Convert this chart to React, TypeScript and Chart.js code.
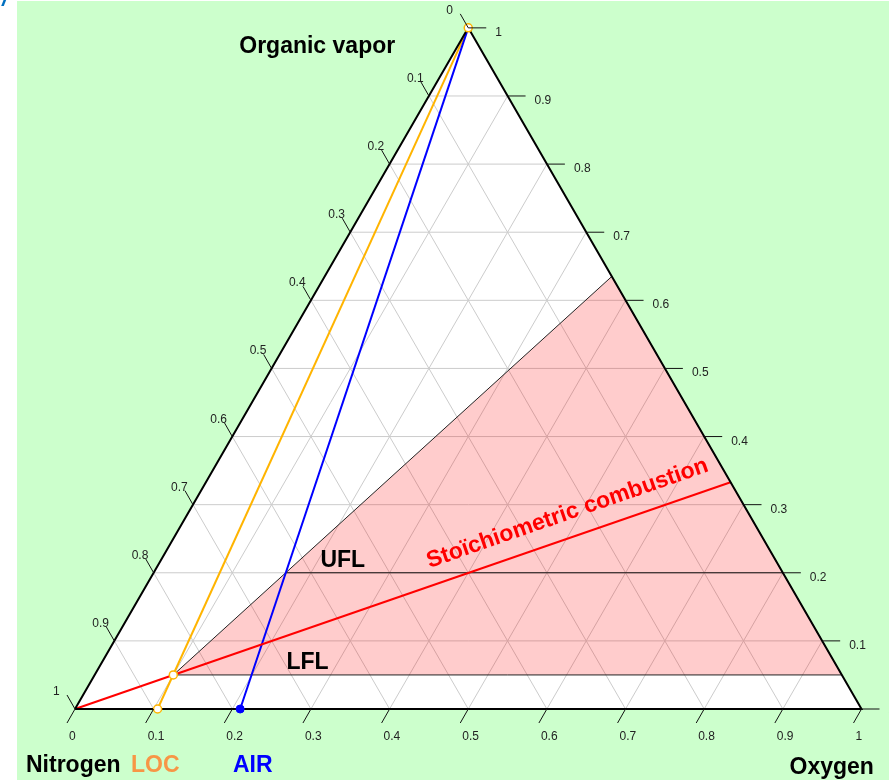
import React, { useEffect, useRef } from 'react';
import { Chart, registerables } from 'chart.js';

Chart.register(...registerables);

// ---- data (ternary points are [oxygen, organic vapor]; nitrogen = 1 - oxygen - vapor) ----
const TICK_VALUES = [0, 0.1, 0.2, 0.3, 0.4, 0.5, 0.6, 0.7, 0.8, 0.9, 1];
const TICK_LABELS = ['0', '0.1', '0.2', '0.3', '0.4', '0.5', '0.6', '0.7', '0.8', '0.9', '1'];
const GRID_STEPS = [0.1, 0.2, 0.3, 0.4, 0.5, 0.6, 0.7, 0.8, 0.9];

const TRIANGLE = [[0, 0], [1, 0], [0, 1], [0, 0]];
const FLAMMABLE_ZONE = [[0.1, 0.05], [0.365, 0.635], [0.95, 0.05], [0.1, 0.05]];
const UFL_LINE = [[0.168, 0.2], [0.8, 0.2]];
const AIR_LINE = [[0.21, 0], [0, 1]];
const LOC_LINE = [[0.105, 0], [0, 1]];
const STOICH_LINE = [[0, 0], [0.667, 0.333]];
const LOC_POINTS = [[0, 1], [0.1, 0.05], [0.105, 0]];
const AIR_POINTS = [[0.21, 0]];
const UFL_ANCHOR = [0.168, 0.2];
const LFL_ANCHOR = [0.1995, 0.05];
const STOICH_LABEL_AT = [0.509, 0.254];

const AXIS_TITLES = ['Organic vapor', 'Nitrogen', 'Oxygen'];
const LEGEND_LOC = 'LOC';
const LEGEND_AIR = 'AIR';
const ZONE_LABELS = ['UFL', 'LFL'];
const STOICH_LABEL = 'Stoïchiometric combustion';

// ---- helpers ----
const H = Math.sqrt(3) / 2;
const toXY = (p: number[]) => ({ x: p[0] + p[1] / 2, y: p[1] * H });

const FONT = 'Arial, "Liberation Sans", sans-serif';
const GREEN = '#CCFFCC';
const ORANGE = '#FFB400';
const BLUE = '#0000FF';
const RED = '#FF0000';

function lineDs(pts: number[][], color: string, width: number, extra: any = {}) {
  return {
    data: pts.map(toXY),
    borderColor: color,
    borderWidth: width,
    pointRadius: 0,
    pointHoverRadius: 0,
    fill: false,
    tension: 0,
    ...extra,
  };
}

function buildDatasets() {
  const ds: any[] = [];
  ds.push(lineDs(TRIANGLE, 'rgba(0,0,0,0)', 0, { fill: 'shape', backgroundColor: '#FFFFFF' }));
  GRID_STEPS.forEach((s) => {
    ds.push(lineDs([[0, s], [1 - s, s]], '#CCCCCC', 1));
    ds.push(lineDs([[s, 0], [s, 1 - s]], '#CCCCCC', 1));
    ds.push(lineDs([[1 - s, 0], [0, 1 - s]], '#CCCCCC', 1));
  });
  ds.push(lineDs(FLAMMABLE_ZONE, '#222222', 1, { fill: 'shape', backgroundColor: 'rgba(255,0,0,0.2)' }));
  ds.push(lineDs(UFL_LINE, '#111111', 1));
  ds.push(lineDs(LOC_LINE, ORANGE, 2));
  ds.push(lineDs(AIR_LINE, BLUE, 2));
  ds.push(lineDs(STOICH_LINE, RED, 2));
  ds.push(lineDs(TRIANGLE, '#000000', 2));
  ds.push({
    data: LOC_POINTS.map(toXY),
    showLine: false,
    pointRadius: 4,
    pointBackgroundColor: '#FFFFFF',
    pointBorderColor: ORANGE,
    pointBorderWidth: 1.5,
  });
  ds.push({
    data: AIR_POINTS.map(toXY),
    showLine: false,
    pointRadius: 4,
    pointBackgroundColor: BLUE,
    pointBorderColor: BLUE,
    pointBorderWidth: 1,
  });
  const n = ds.length;
  ds.forEach((d, i) => (d.order = n - i));
  return ds;
}

const bgPlugin = {
  id: 'bg',
  beforeDraw(chart: any) {
    const ctx = chart.ctx;
    ctx.save();
    ctx.fillStyle = GREEN;
    ctx.fillRect(17, 1, chart.width - 17, chart.height - 1);
    ctx.fillStyle = '#0070C0';
    ctx.font = `italic bold 22px ${FONT}`;
    ctx.textAlign = 'left';
    ctx.textBaseline = 'alphabetic';
    ctx.fillText('/', 2, 6);
    ctx.restore();
  },
};

function pix(chart: any, p: number[]) {
  const c = toXY(p);
  return { x: chart.scales.x.getPixelForValue(c.x), y: chart.scales.y.getPixelForValue(c.y) };
}

const labelPlugin = {
  id: 'ternaryLabels',
  afterDatasetsDraw(chart: any) {
    const ctx = chart.ctx;
    ctx.save();
    const seg = (x1: number, y1: number, x2: number, y2: number) => {
      ctx.beginPath();
      ctx.moveTo(x1, y1);
      ctx.lineTo(x2, y2);
      ctx.stroke();
    };
    ctx.strokeStyle = '#111';
    ctx.lineWidth = 1;
    ctx.fillStyle = '#222';
    ctx.font = `12px ${FONT}`;
    ctx.textAlign = 'left';
    ctx.textBaseline = 'alphabetic';
    TICK_VALUES.forEach((t, i) => {
      const lab = TICK_LABELS[i];
      const b = pix(chart, [t, 0]);
      seg(b.x, b.y, b.x - 8, b.y + 14);
      ctx.fillText(lab, b.x - 6, b.y + 31);
      const r = pix(chart, [1 - t, t]);
      seg(r.x, r.y, r.x + 18, r.y);
      ctx.fillText(lab, r.x + 27, r.y + 8);
      const l = pix(chart, [0, 1 - t]);
      seg(l.x, l.y, l.x - 8, l.y - 14);
      ctx.fillText(lab, l.x - 22, l.y - 14);
    });

    const N = pix(chart, [0, 0]);
    const O = pix(chart, [1, 0]);
    const V = pix(chart, [0, 1]);
    ctx.font = `bold 23px ${FONT}`;
    ctx.fillStyle = '#000';
    ctx.fillText(AXIS_TITLES[0], V.x - 229, V.y + 25);
    ctx.fillText(AXIS_TITLES[1], N.x - 49, N.y + 63);
    ctx.fillText(AXIS_TITLES[2], O.x - 72, O.y + 65);
    ctx.fillStyle = '#F79646';
    ctx.fillText(LEGEND_LOC, N.x + 56, N.y + 63);
    ctx.fillStyle = BLUE;
    ctx.fillText(LEGEND_AIR, N.x + 158, N.y + 63);

    ctx.fillStyle = '#000';
    ctx.textAlign = 'center';
    const u = pix(chart, UFL_ANCHOR);
    ctx.fillText(ZONE_LABELS[0], u.x + 57, u.y - 6);
    const lf = pix(chart, LFL_ANCHOR);
    ctx.fillText(ZONE_LABELS[1], lf.x + 56, lf.y - 5.5);

    const s0 = pix(chart, STOICH_LINE[0]);
    const s1 = pix(chart, STOICH_LINE[1]);
    const ang = Math.atan2(s1.y - s0.y, s1.x - s0.x);
    const sp = pix(chart, STOICH_LABEL_AT);
    const off = 17.5;
    const nx = Math.sin(ang) * off;
    const ny = -Math.cos(ang) * off;
    ctx.translate(sp.x + nx, sp.y + ny);
    ctx.rotate(ang);
    ctx.fillStyle = RED;
    ctx.font = `bold 23px ${FONT}`;
    ctx.fillText(STOICH_LABEL, 0, 0);
    ctx.restore();
  },
};

export default function App() {
  const ref = useRef<HTMLCanvasElement>(null);
  useEffect(() => {
    const canvas = ref.current;
    if (!canvas) return;
    const U = 786.5;
    const ox = 75;
    const oy = 709;
    const chart = new Chart(canvas, {
      type: 'line',
      data: { datasets: buildDatasets() },
      options: {
        responsive: false,
        animation: false,
        devicePixelRatio: 1,
        layout: { padding: 0, autoPadding: false },
        events: [],
        plugins: {
          legend: { display: false },
          title: { display: false },
          tooltip: { enabled: false },
        },
        scales: {
          x: {
            type: 'linear',
            display: false,
            bounds: 'data',
            min: -ox / U,
            max: (889 - ox) / U,
          },
          y: {
            type: 'linear',
            display: false,
            bounds: 'data',
            min: (oy - 780) / U,
            max: oy / U,
          },
        },
      } as any,
      plugins: [bgPlugin, labelPlugin],
    });
    return () => chart.destroy();
  }, []);
  return (
    <div style={{ position: 'absolute', left: 0, top: 0, width: 889, height: 780 }}>
      <canvas ref={ref} width={889} height={780} style={{ display: 'block', width: 889, height: 780 }} />
    </div>
  );
}
